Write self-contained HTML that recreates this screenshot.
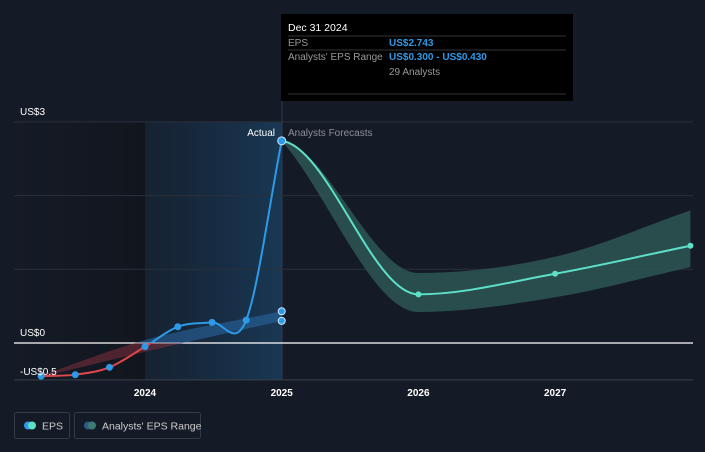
<!DOCTYPE html>
<html><head><meta charset="utf-8"><style>
body{margin:0;background:#151b26;width:705px;height:447px;overflow:hidden;font-family:"Liberation Sans",sans-serif}
svg text{font-family:"Liberation Sans",sans-serif}
</style></head><body>
<svg id="c" width="705" height="447" xmlns="http://www.w3.org/2000/svg">
<defs>
<linearGradient id="hl" x1="0" x2="1" y1="0" y2="0"><stop offset="0" stop-color="#17293d" stop-opacity="0.5"/><stop offset="1" stop-color="#1a3f60" stop-opacity="0.8"/></linearGradient>
<linearGradient id="dk" x1="0" x2="1"><stop offset="0" stop-color="#151b26"/><stop offset="1" stop-color="#11161e"/></linearGradient>
</defs>
<rect x="0" y="0" width="705" height="447" fill="#151b26"/>
<rect x="14" y="122" width="131" height="258" fill="url(#dk)"/>
<rect x="145" y="122" width="137" height="258" fill="url(#hl)"/>
<line x1="282" y1="100" x2="282" y2="380" stroke="#2a3a50" stroke-width="1"/>
<g id="grid"></g>
<g id="bands"></g>
<g id="lines"></g>
<g id="axes"></g>
<g>
<rect x="281" y="14" width="292" height="87" fill="#000"/>
<text x="288" y="31" fill="#fff" font-size="10.5">Dec 31 2024</text>
<line x1="288" y1="36" x2="566" y2="36" stroke="#333"/>
<text x="288" y="46" fill="#999" font-size="10">EPS</text>
<text x="389" y="46" fill="#2d9ae8" font-size="10" font-weight="bold">US$2.743</text>
<line x1="288" y1="50" x2="566" y2="50" stroke="#333"/>
<text x="288" y="60" fill="#999" font-size="10">Analysts' EPS Range</text>
<text x="389" y="60" fill="#2d9ae8" font-size="10" font-weight="bold">US$0.300 - US$0.430</text>
<text x="389" y="75" fill="#999" font-size="10">29 Analysts</text>
<line x1="288" y1="94" x2="566" y2="94" stroke="#333"/>
</g>
<text x="275" y="136" fill="#fff" font-size="10" text-anchor="end">Actual</text>
<text x="288" y="136" fill="#8a8f98" font-size="10">Analysts Forecasts</text>
<g>
<rect x="14.5" y="412.5" width="55" height="26" rx="2" fill="none" stroke="#333b48"/>
<circle cx="28" cy="425.5" r="4" fill="#2d9ae8"/><circle cx="32" cy="425.5" r="4" fill="#5ee0c8"/>
<text x="42" y="429.5" fill="#ccc" font-size="10.5">EPS</text>
<rect x="74.5" y="412.5" width="126" height="26" rx="2" fill="none" stroke="#333b48"/>
<circle cx="88" cy="425.5" r="4" fill="#2a5a85"/><circle cx="92" cy="425.5" r="4" fill="#3d7c72"/>
<text x="102" y="429.5" fill="#ccc" font-size="10.5">Analysts' EPS Range</text>
</g>
</svg>
<script>
const histDates=[2023.24,2023.49,2023.74,2024.0,2024.24,2024.49,2024.74,2025.0];
const histEps=[-0.45,-0.43,-0.33,-0.05,0.22,0.28,0.31,2.743];
const pastRangeDates=[2023.24,2024.0,2025.0];
const pastRangeLow=[-0.46,-0.12,0.30];
const pastRangeHigh=[-0.44,0.04,0.43];
const fcDates=[2025.0,2026.0,2027.0,2027.99];
const fcEps=[2.743,0.66,0.94,1.32];
const fcLow=[2.743,0.42,0.62,1.03];
const fcHigh=[2.743,0.95,1.17,1.80];
const yTicks=[3,0,-0.5];
const yTickLabels=["US$3","US$0","-US$0.5"];
const xTicks=[2024,2025,2026,2027];
const NS="http://www.w3.org/2000/svg";
const X=d=>145+(d-2024)*136.7;
const Y=v=>343-v*73.7;
function el(t,a,p){const e=document.createElementNS(NS,t);for(const k in a)e.setAttribute(k,a[k]);document.getElementById(p).appendChild(e);return e;}
function mono(xs,ys,startSlope){const n=xs.length;if(n<3){return xs.map((x,i)=>(i?'L':'M')+x+','+ys[i]).join('');}
const d=[],m=[];for(let i=0;i<n-1;i++)d.push((ys[i+1]-ys[i])/(xs[i+1]-xs[i]));
m[0]=startSlope!==undefined?d[0]*startSlope:d[0];m[n-1]=d[n-2];for(let i=1;i<n-1;i++){m[i]=d[i-1]*d[i]<=0?0:(d[i-1]+d[i])/2;}
let p='M'+xs[0]+','+ys[0];for(let i=0;i<n-1;i++){const h=(xs[i+1]-xs[i])/3;p+=`C${xs[i]+h},${ys[i]+m[i]*h} ${xs[i+1]-h},${ys[i+1]-m[i+1]*h} ${xs[i+1]},${ys[i+1]}`;}return p;}
function revPath(xs,ys,s){const n=xs.length;const rx=xs.slice().reverse(),ry=ys.slice().reverse();
// build forward then reverse segments manually
const d=[],m=[];for(let i=0;i<n-1;i++)d.push((ys[i+1]-ys[i])/(xs[i+1]-xs[i]));
m[0]=s!==undefined?d[0]*s:d[0];m[n-1]=d[n-2];for(let i=1;i<n-1;i++){m[i]=d[i-1]*d[i]<=0?0:(d[i-1]+d[i])/2;}
if(n<3){return 'L'+rx.map((x,i)=>x+','+ry[i]).join('L');}
let p='L'+xs[n-1]+','+ys[n-1];for(let i=n-2;i>=0;i--){const h=(xs[i+1]-xs[i])/3;p+=`C${xs[i+1]-h},${ys[i+1]-m[i+1]*h} ${xs[i]+h},${ys[i]+m[i]*h} ${xs[i]},${ys[i]}`;}return p;}
[1,2,3].forEach(v=>{const g=el('line',{x1:14,x2:693,y1:Y(v),y2:Y(v),stroke:'#2a303b'},'grid');
});
const zl=el('line',{x1:14,x2:693,y1:Y(0),y2:Y(0),stroke:'#fff','stroke-width':1.3},'grid');

const bl=el('line',{x1:14,x2:693,y1:Y(-0.5),y2:Y(-0.5),stroke:'#3a404b'},'grid');

{const cp=el('clipPath',{id:'neg'},'bands');const r=document.createElementNS(NS,'rect');r.setAttribute('x',0);r.setAttribute('y',Y(0));r.setAttribute('width',705);r.setAttribute('height',100);cp.appendChild(r);
const cp2=el('clipPath',{id:'pos'},'bands');const r2=document.createElementNS(NS,'rect');r2.setAttribute('x',0);r2.setAttribute('y',0);r2.setAttribute('width',705);r2.setAttribute('height',Y(0));cp2.appendChild(r2);}
{const xs=pastRangeDates.map(X);const dd=mono(xs,pastRangeHigh.map(Y))+revPath(xs,pastRangeLow.map(Y))+'Z';
const pb=el('path',{d:dd,fill:'#2a6aa8','fill-opacity':0.55,'clip-path':'url(#pos)'},'bands');

const pr=el('path',{d:dd,fill:'#8a3040','fill-opacity':0.5,'clip-path':'url(#neg)'},'bands');
}
{const xs=fcDates.map(X);const fb=el('path',{d:mono(xs,fcHigh.map(Y),0.15)+revPath(xs,fcLow.map(Y),0.9)+'Z',fill:'#2e5a58','fill-opacity':0.8},'bands');
}
{const xs=histDates.map(X),ys=histEps.map(Y);const d=mono(xs,ys);
const a=el('path',{d,fill:'none',stroke:'#2d9ae8','stroke-width':2,'clip-path':'url(#pos)'},'lines');
const b=el('path',{d,fill:'none',stroke:'#e0474c','stroke-width':2,'clip-path':'url(#neg)'},'lines');
xs.forEach((x,i)=>{const c=el('circle',{cx:x,cy:ys[i],r:3.5,fill:'#2d9ae8'},'lines');});}
{const xs=fcDates.map(X),ys=fcEps.map(Y);
const f=el('path',{d:mono(xs,ys,0.1),fill:'none',stroke:'#5ee0c8','stroke-width':2},'lines');
xs.forEach((x,i)=>{if(i==0)return;const c=el('circle',{cx:x,cy:ys[i],r:3,fill:'#5ee0c8'},'lines');});}
[pastRangeLow[2],pastRangeHigh[2]].forEach(v=>{const c=el('circle',{cx:X(2025),cy:Y(v),r:3.5,fill:'#2d9ae8',stroke:'#cfe6ff','stroke-width':1},'lines');});
{const c=el('circle',{cx:X(2025),cy:Y(histEps[7]),r:4,fill:'#2d9ae8',stroke:'#cfe6ff','stroke-width':1},'lines');}
yTicks.forEach((v,i)=>{const t=el('text',{x:20,y:Y(v)-(v==3?7:v==0?7:5),fill:'#fff','font-size':10},'axes');t.textContent=yTickLabels[i];
});
xTicks.forEach(v=>{const t=el('text',{x:X(v),y:396,fill:'#fff','font-size':10,'text-anchor':'middle','font-weight':'bold'},'axes');t.textContent=v;
});
</script>
</body></html>
